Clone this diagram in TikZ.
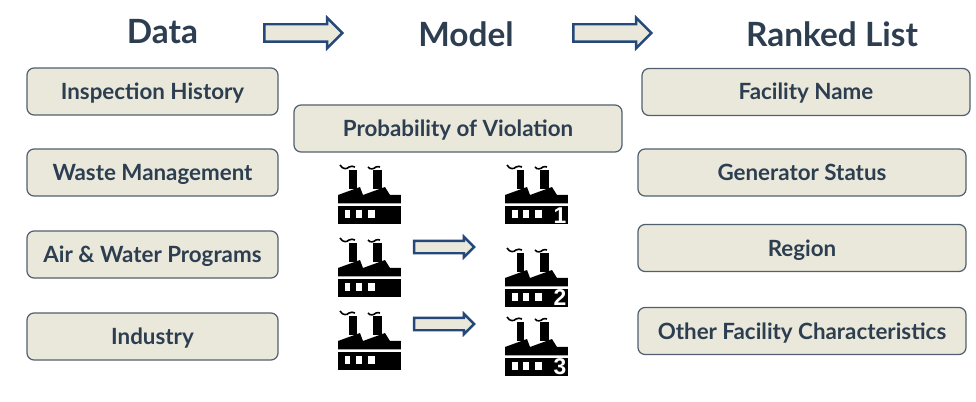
\documentclass[tikz,border=0pt]{standalone}
\usepackage{fontspec}
\setmainfont{Lato}
\setsansfont{Liberation Sans}
\usetikzlibrary{shapes, arrows.meta, positioning}
\definecolor{slateink}{RGB}{44, 62, 80}
\definecolor{boxedge}{RGB}{80, 96, 112}
\definecolor{boxfill}{RGB}{234, 232, 219}
\definecolor{arrowblue}{RGB}{36, 72, 122}

\tikzset{
  heading/.style={text=slateink, font=\fontsize{9.5}{11}\bfseries},
  infobox/.style={draw=boxedge, fill=boxfill, rounded corners=2pt, line width=0.35pt, minimum height=0.47cm, inner sep=0pt, text height=0.2cm, text depth=0.04cm, text=slateink, font=\fontsize{6.36}{8}\bfseries},
  bigarrow/.style={single arrow, draw=arrowblue, fill=boxfill, line width=0.7pt, inner sep=0.075cm, minimum width=0.28cm, minimum height=0.78cm, single arrow head extend=0.065cm},
  smallarrow/.style={single arrow, draw=arrowblue, fill=boxfill, line width=0.7pt, inner sep=0.05cm, minimum width=0.18cm, minimum height=0.6cm, single arrow head extend=0.04cm},
  ranknum/.style={text=white, inner sep=0pt, font=\fontsize{6.5}{7}\sffamily\bfseries},
  factory/.pic={
    \begin{scope}[x=0.01cm, y=-0.01cm]
      % chimneys, roof, lower block
      \fill[black] (11.5,6) rectangle (19.5,25);
      \fill[black] (35,6) rectangle (44,25);
      \fill[black] (0,39.5) -- (0,31) -- (22,23) -- (25,31) -- (47,23) -- (52,31) -- (63,31) -- (63,39.5) -- cycle;
      \fill[black] (0,42) rectangle (63,60);
      % windows
      \fill[white] (6.5,46) rectangle (12.5,54);
      \fill[white] (18,46) rectangle (24.5,54);
      \fill[white] (30,46) rectangle (37,54);
      % smoke
      \draw[black, line width=0.45pt] (2,1) .. controls (5,6) and (9,5) .. (11,3) .. controls (13,1) and (15,3) .. (17,3);
      \draw[black, line width=0.45pt] (30,3) .. controls (32,6) and (36,5) .. (38,3) .. controls (39,2) and (41,3) .. (42,3);
    \end{scope}
  }
}

\begin{document}
\begin{tikzpicture}
  \useasboundingbox (0,0) rectangle (9.76,4.01);

  % Headings
  \node[heading] (data) at (1.625, 3.69) {Data};
  \node[heading] (model) at (4.66, 3.67) {Model};
  \node[heading] (ranked) at (8.32, 3.67) {Ranked List};

  \node[bigarrow] (dataarrow) at (2.99, 3.68) {};
  \node[bigarrow] (modelarrow) at (6.08, 3.68) {};

  % Data
  \node[infobox, minimum width=2.51cm] (history) at (1.525, 3.095) {Inspection History};
  \node[infobox, minimum width=2.51cm] (waste) at (1.525, 2.285) {Waste Management};
  \node[infobox, minimum width=2.51cm] (programs) at (1.525, 1.465) {Air \& Water Programs};
  \node[infobox, minimum width=2.51cm] (industry) at (1.525, 0.645) {Industry};

  % Model
  \node[infobox, minimum width=3.28cm] (violation) at (4.58, 2.725) {Probability of Violation};

  \pic (facleftone) at (3.38, 2.37) {factory};
  \pic (faclefttwo) at (3.38, 1.64) {factory};
  \pic (facleftthree) at (3.38, 0.91) {factory};

  \node[smallarrow] (movetwo) at (4.41, 1.54) {};
  \node[smallarrow] (movethree) at (4.41, 0.77) {};

  \pic (facrightone) at (5.05, 2.37) {factory};
  \pic (facrighttwo) at (5.05, 1.54) {factory};
  \pic (facrightthree) at (5.05, 0.85) {factory};

  \node[ranknum] (rankone) at (5.6, 1.85) {1};
  \node[ranknum] (ranktwo) at (5.6, 1.03) {2};
  \node[ranknum] (rankthree) at (5.6, 0.34) {3};

  % Ranked list
  \node[infobox, minimum width=3.28cm] (name) at (8.06, 3.09) {Facility Name};
  \node[infobox, minimum width=3.28cm] (status) at (8.02, 2.285) {Generator Status};
  \node[infobox, minimum width=3.28cm] (region) at (8.02, 1.53) {Region};
  \node[infobox, minimum width=3.28cm] (other) at (8.02, 0.70) {Other Facility Characteristics};
\end{tikzpicture}
\end{document}
